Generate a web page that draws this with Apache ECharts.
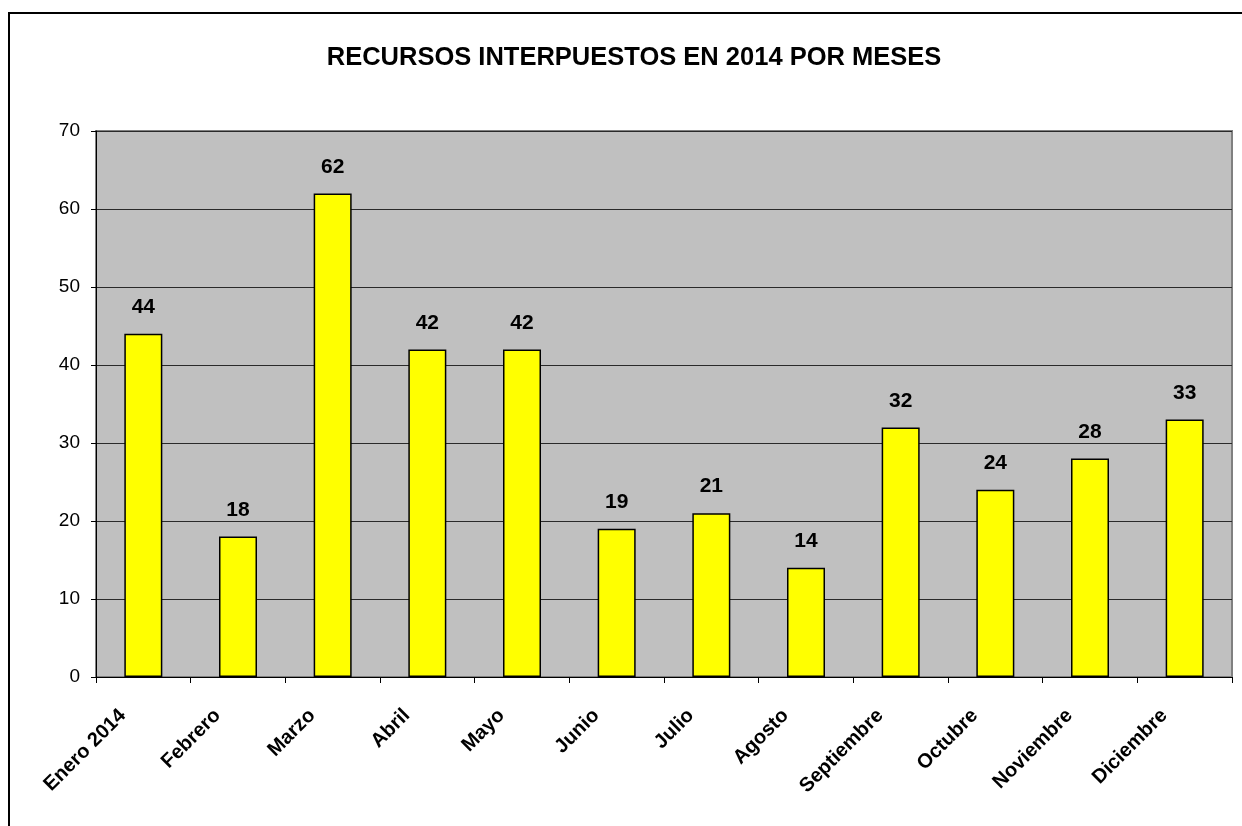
<!DOCTYPE html>
<html>
<head>
<meta charset="utf-8">
<style>
  html, body { margin: 0; padding: 0; background: #ffffff; }
  #chart { width: 1242px; height: 826px; }
</style>
<script src="https://cdn.jsdelivr.net/npm/echarts@6/dist/echarts.min.js"></script>
</head>
<body>
<div id="chart"></div>
<script>
// Appeals filed per month during 2014
const months = ['Enero 2014', 'Febrero', 'Marzo', 'Abril', 'Mayo', 'Junio',
  'Julio', 'Agosto', 'Septiembre', 'Octubre', 'Noviembre', 'Diciembre'];
const recursos = [44, 18, 62, 42, 42, 19, 21, 14, 32, 24, 28, 33];
const yTicks = { min: 0, max: 70, interval: 10 };
const titleText = 'RECURSOS INTERPUESTOS EN 2014 POR MESES';

const chart = echarts.init(document.getElementById('chart'), null, { renderer: 'canvas' });
const font = "'Liberation Sans', Arial, sans-serif";

chart.setOption({
  backgroundColor: '#ffffff',
  animation: false,
  textStyle: { fontFamily: font },
  title: {
    text: titleText,
    left: 629,
    textAlign: 'center',
    top: 40,
    textStyle: { fontFamily: font, fontSize: 25.5, fontWeight: 'bold', color: '#000' }
  },
  graphic: [{
    type: 'rect',
    shape: { x: 9, y: 13, width: 1260, height: 840 },
    style: { fill: 'none', stroke: '#000', lineWidth: 2 },
    silent: true
  }],
  grid: {
    left: 96, top: 131, right: 10, bottom: 149,
    show: true,
    backgroundColor: '#c0c0c0',
    borderColor: '#808080',
    borderWidth: 2
  },
  xAxis: {
    type: 'category',
    data: months,
    axisLine: { lineStyle: { color: '#000', width: 1 } },
    axisTick: { show: true, alignWithLabel: false, length: 6, lineStyle: { color: '#000' } },
    axisLabel: {
      rotate: 45,
      interval: 0,
      margin: 15,
      padding: [0, 29, 0, 0],
      fontFamily: font,
      fontSize: 20,
      fontWeight: 'bold',
      color: '#000'
    },
    splitLine: { show: false }
  },
  yAxis: {
    type: 'value',
    min: yTicks.min,
    max: yTicks.max,
    interval: yTicks.interval,
    axisLine: { show: true, lineStyle: { color: '#000', width: 1 } },
    axisTick: { show: true, length: 5, lineStyle: { color: '#000' } },
    axisLabel: { fontFamily: font, fontSize: 19, color: '#000', margin: 16 },
    splitLine: { show: true, lineStyle: { color: '#2a2a2a', width: 1 } }
  },
  series: [{
    type: 'bar',
    data: recursos,
    barWidth: 38,
    itemStyle: { color: '#ffff00', borderColor: '#000', borderWidth: 1.5 },
    label: {
      show: true,
      position: 'top',
      distance: 16,
      fontFamily: font,
      fontSize: 21,
      fontWeight: 'bold',
      color: '#000'
    }
  }]
});
</script>
</body>
</html>
